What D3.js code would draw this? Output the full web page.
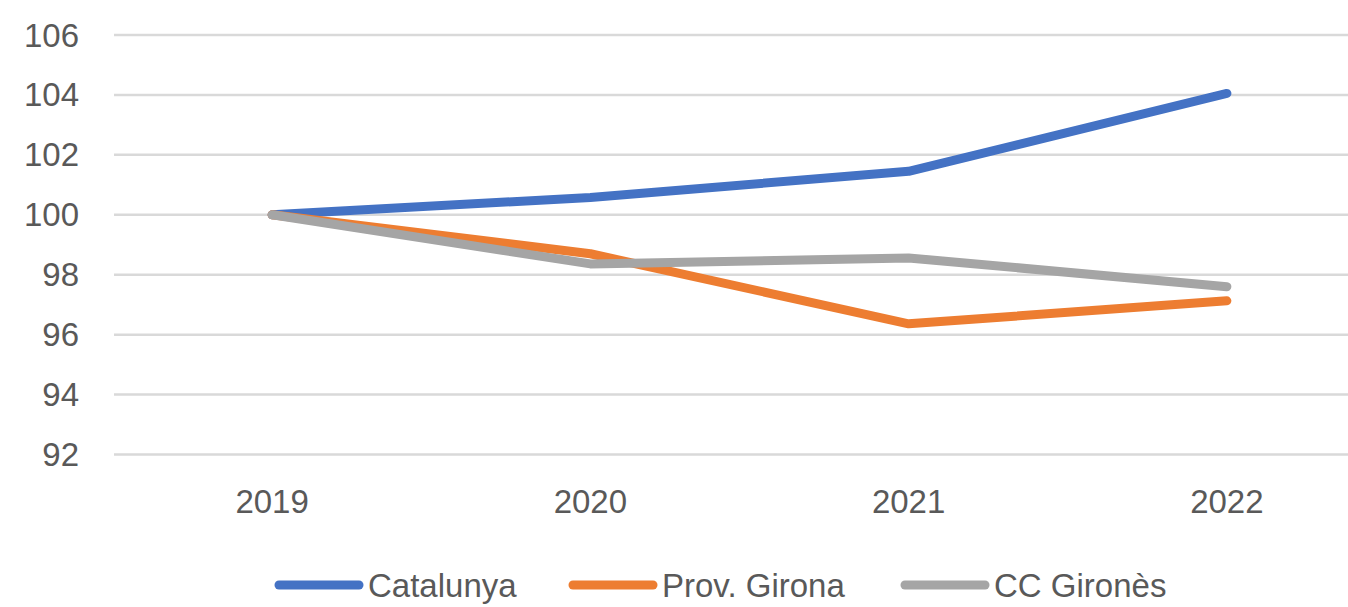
<!DOCTYPE html>
<html>
<head>
<meta charset="utf-8">
<script src="https://cdn.jsdelivr.net/npm/d3@7"></script>
<style>
  body { margin: 0; background: #fff; }
  svg text { font-family: 'Liberation Sans', Arial, sans-serif; fill: #595959; }
</style>
</head>
<body>
<svg id="chart" width="1348" height="607"></svg>
<script>
// 数据
const years = ['2019', '2020', '2021', '2022'];
const seriesNames = ['Catalunya', 'Prov. Girona', 'CC Gironès'];
const catalunya = [100, 100.58, 101.45, 104.05];
const provGirona = [100, 98.7, 96.36, 97.13];
const ccGirones = [100, 98.36, 98.56, 97.6];
const yTicks = [92, 94, 96, 98, 100, 102, 104, 106];
const colors = ['#4472C4', '#ED7D31', '#A5A5A5'];

const allSeries = [catalunya, provGirona, ccGirones];

let svg = d3.select('#chart');

// 比例尺
let x = d3.scaleBand()
    .domain(years)
    .range([113, 1386]);
let y = d3.scaleLinear()
    .domain([92, 106])
    .range([454.5, 35]);

// 网格线
svg.append('g')
    .selectAll('line')
    .data(yTicks)
    .enter()
    .append('line')
    .attr('x1', 114)
    .attr('x2', 1348)
    .attr('y1', d => y(d))
    .attr('y2', d => y(d))
    .attr('stroke', '#d9d9d9')
    .attr('stroke-width', 2.5);

// y 轴标签
svg.append('g')
    .selectAll('text')
    .data(yTicks)
    .enter()
    .append('text')
    .attr('x', 79)
    .attr('y', d => y(d))
    .attr('dy', '0.35em')
    .attr('text-anchor', 'end')
    .style('font-size', '33px')
    .text(d => d);

// x 轴标签
svg.append('g')
    .selectAll('text')
    .data(years)
    .enter()
    .append('text')
    .attr('x', d => x(d) + x.bandwidth() / 2)
    .attr('y', 501)
    .attr('dy', '0.35em')
    .attr('text-anchor', 'middle')
    .style('font-size', '33px')
    .text(d => d);

// 折线 (后面的系列画在上面)
let line = d3.line()
    .x((d, i) => x(years[i]) + x.bandwidth() / 2)
    .y(d => y(d));

svg.append('g')
    .selectAll('path')
    .data(allSeries)
    .enter()
    .append('path')
    .attr('d', d => line(d))
    .attr('fill', 'none')
    .attr('stroke', (d, i) => colors[i])
    .attr('stroke-width', 9)
    .attr('stroke-linecap', 'round')
    .attr('stroke-linejoin', 'round');

// 图例
let legendX = [275, 569, 901];
let legend = svg.append('g')
    .selectAll('g')
    .data(seriesNames)
    .enter()
    .append('g')
    .attr('transform', (d, i) => 'translate(' + legendX[i] + ',585)');
legend.append('line')
    .attr('x1', 4)
    .attr('x2', 84)
    .attr('stroke', (d, i) => colors[i])
    .attr('stroke-width', 9)
    .attr('stroke-linecap', 'round');
legend.append('text')
    .attr('x', 93)
    .attr('dy', '0.35em')
    .style('font-size', '33px')
    .text(d => d);
</script>
</body>
</html>
